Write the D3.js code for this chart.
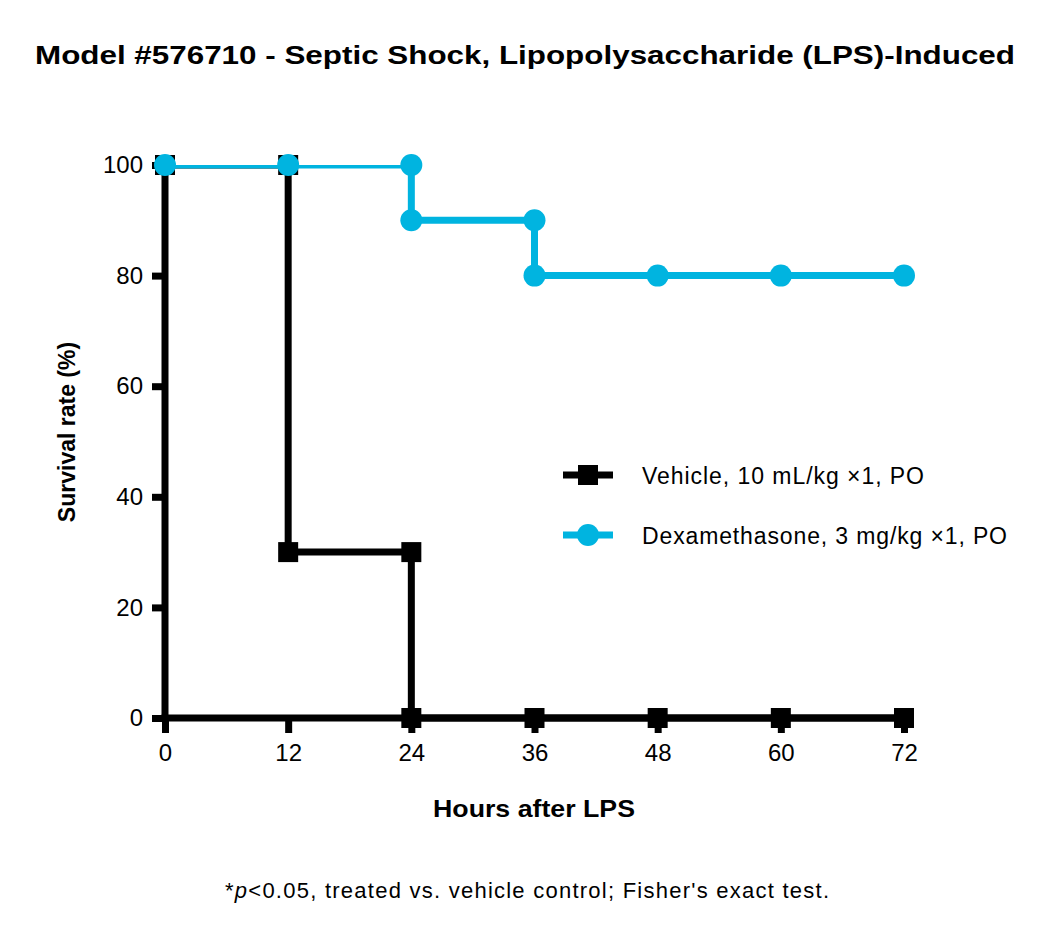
<!DOCTYPE html>
<html>
<head>
<meta charset="utf-8">
<script src="https://cdn.jsdelivr.net/npm/d3@7"></script>
<style>
  body { margin: 0; background: #fff; }
  svg { display: block; font-family: "Liberation Sans", Arial, sans-serif; }
</style>
</head>
<body>
<svg id="chart" width="1050" height="941"></svg>
<script>
// ---- data ----
const titleText = "Model #576710 - Septic Shock, Lipopolysaccharide (LPS)-Induced";
const xTitle = "Hours after LPS";
const yTitle = "Survival rate (%)";
const xTicks = [0, 12, 24, 36, 48, 60, 72];
const yTicks = [0, 20, 40, 60, 80, 100];
const seriesNames = ["Vehicle, 10 mL/kg \u00d71, PO", "Dexamethasone, 3 mg/kg \u00d71, PO"];
const vehicleHours = [0, 12, 12, 24, 24, 36, 48, 60, 72];
const vehicleSurvival = [100, 100, 30, 30, 0, 0, 0, 0, 0];
const dexHours = [0, 12, 24, 24, 36, 36, 48, 60, 72];
const dexSurvival = [100, 100, 100, 90, 90, 80, 80, 80, 80];

// ---- layout ----
const svg = d3.select("#chart");
const x = d3.scaleLinear().domain([0, 72]).range([165, 904]);
const y = d3.scaleLinear().domain([0, 100]).range([718, 165]);
const black = "#000000", cyan = "#00b4e0";
const lw = 7;

// title
svg.append("text").attr("x", 525).attr("y", 64).attr("text-anchor", "middle")
  .attr("font-size", 26).attr("font-weight", "bold")
  .attr("textLength", 980).attr("lengthAdjust", "spacingAndGlyphs")
  .text(titleText);

// clip (top of plot clips line strokes)
svg.append("clipPath").attr("id", "clip").append("rect")
  .attr("x", x(0) - 20).attr("y", y(100)).attr("width", x(72) - x(0) + 40).attr("height", y(0) - y(100) + 20);

// axes
const xAxis = svg.append("g").attr("transform", `translate(0,${y(0)})`)
  .call(d3.axisBottom(x).tickValues(xTicks).tickSize(15).tickPadding(11).tickSizeOuter(0));
const yAxis = svg.append("g").attr("transform", `translate(${x(0)},0)`)
  .call(d3.axisLeft(y).tickValues(yTicks).tickSize(13).tickPadding(9).tickSizeOuter(0));
[xAxis, yAxis].forEach(g => {
  g.select(".domain").attr("stroke", black).attr("stroke-width", lw);
  g.selectAll(".tick line").attr("stroke", black).attr("stroke-width", lw);
  g.selectAll(".tick text").attr("fill", black).attr("font-size", 24)
    .attr("font-family", "'Liberation Sans', Arial, sans-serif");
});
// extend domains to cover caps
xAxis.select(".domain").attr("d", `M${x(0) - lw/2},0H${x(72)}`);
yAxis.select(".domain").attr("d", `M0,${y(0) + lw/2}V${y(100)}`);

// axis titles
svg.append("text").attr("x", 433).attr("y", 817)
  .attr("font-size", 24).attr("font-weight", "bold")
  .attr("textLength", 202).attr("lengthAdjust", "spacingAndGlyphs").text(xTitle);
svg.append("text").attr("transform", `translate(75,432) rotate(-90)`)
  .attr("text-anchor", "middle").attr("font-size", 23).attr("font-weight", "bold").text(yTitle);

const line = d3.line().x(d => x(d[0])).y(d => y(d[1]));
const vehData = vehicleHours.map((h, i) => [h, vehicleSurvival[i]]);
const dexData = dexHours.map((h, i) => [h, dexSurvival[i]]);

// vehicle
svg.append("path").datum(vehData).attr("d", line).attr("fill", "none")
  .attr("stroke", black).attr("stroke-width", lw).attr("clip-path", "url(#clip)");
const sq = 20;
svg.selectAll(".vm").data(vehData).enter().append("rect")
  .attr("x", d => x(d[0]) - sq/2).attr("y", d => y(d[1]) - sq/2)
  .attr("width", sq).attr("height", sq).attr("fill", black);

// dex
svg.append("path").datum(dexData).attr("d", line).attr("fill", "none")
  .attr("stroke", cyan).attr("stroke-width", lw).attr("clip-path", "url(#clip)");
svg.selectAll(".dm").data(dexData).enter().append("circle")
  .attr("cx", d => x(d[0])).attr("cy", d => y(d[1])).attr("r", 11).attr("fill", cyan);

// legend
const legY = [475, 535];
const legColors = [black, cyan];
const legLen = [282, 365];
legY.forEach((ly, i) => {
  svg.append("line").attr("x1", 563).attr("x2", 613).attr("y1", ly).attr("y2", ly)
    .attr("stroke", legColors[i]).attr("stroke-width", lw);
  if (i === 0) {
    svg.append("rect").attr("x", 588 - sq/2).attr("y", ly - sq/2).attr("width", sq).attr("height", sq).attr("fill", black);
  } else {
    svg.append("circle").attr("cx", 588).attr("cy", ly).attr("r", 11).attr("fill", cyan);
  }
  svg.append("text").attr("x", 642).attr("y", ly + 9).attr("font-size", 23)
    .attr("textLength", legLen[i]).attr("lengthAdjust", "spacing").text(seriesNames[i]);
});

// footnote
const fn = svg.append("text").attr("x", 225).attr("y", 898).attr("font-size", 22)
  .attr("textLength", 604).attr("lengthAdjust", "spacing");
fn.append("tspan").text("*");
fn.append("tspan").attr("font-style", "italic").text("p");
fn.append("tspan").text("<0.05, treated vs. vehicle control; Fisher's exact test.");
</script>
</body>
</html>
